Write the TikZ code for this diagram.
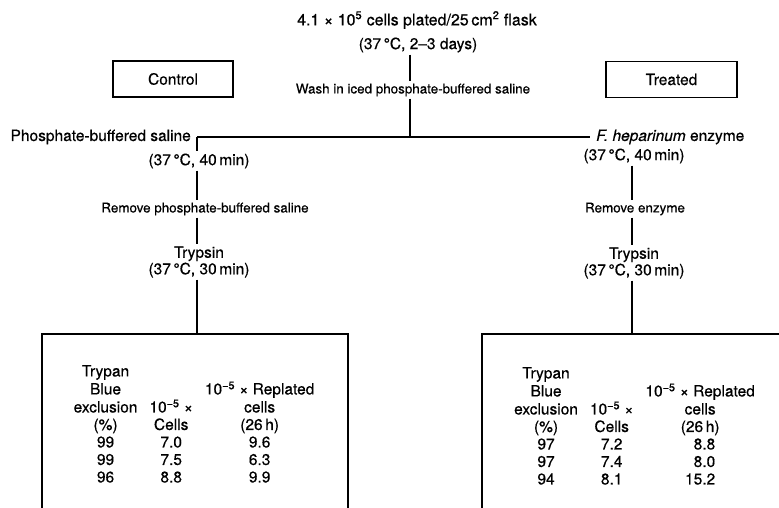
\documentclass[tikz,border=0pt]{standalone}
\usepackage{fontspec}
\setmainfont{TeX Gyre Heros}[FakeBold=0.5]
\usetikzlibrary{positioning}
\tikzset{
  stage/.style={font=\fontsize{15.5}{16.5}\selectfont,align=center,inner sep=2pt},
  note/.style={font=\fontsize{13.4}{15}\selectfont,inner sep=2pt},
  group/.style={draw,line width=1.6pt,minimum height=36pt,
    font=\fontsize{15.5}{17.5}\selectfont},
  tablebox/.style={draw,line width=1.6pt,anchor=north west,minimum height=260pt},
  results/.style={anchor=north,inner sep=0pt,font=\fontsize{15.5}{17.5}\selectfont},
  link/.style={line width=1.6pt}
}

\begin{document}
\begin{tikzpicture}[x=1pt,y=-1pt]
      \useasboundingbox (0,0) rectangle (779,508);
      \clip (0,0) rectangle (779,508);
      % start of the run
      \node[stage,font=\fontsize{16}{18}\selectfont] (plated) at (417,20)
        {4.1 × 10\textsuperscript{5} cells plated/25\,cm\textsuperscript{2} flask};
      \node[stage] (days) at (418,45) {(37\,°C, 2–3 days)};
      \node[note] (wash) at (413,90) {Wash in iced phosphate-buffered saline};
      \coordinate (split) at (410,137);
      \coordinate (cornerL) at (197,137);
      \coordinate (endR) at (590,137);
      \draw[link] (days.south -| split) -- (wash.north -| split);
      \draw[link] (wash.south -| split) -- (split);
      \draw[link] (cornerL) -- (endR);

      \node[group,minimum width=120pt] (control) at (173,79) {Control};
      \node[group,minimum width=131pt] (treated) at (671.5,79.5) {Treated};

      % control arm
      \node[stage,anchor=east] (pbs) at (193,137) {Phosphate-buffered saline};
      \node[stage] (ctlcond) at (199,161) {(37\,°C, 40\,min)};
      \node[note] (ctlremove) at (205,209) {Remove phosphate-buffered saline};
      \node[stage] (ctltryp) at (199,262) {Trypsin\\(37\,°C, 30\,min)};
      \node[tablebox,minimum width=306pt] (ctlbox) at (41,333) {};
      \draw[link] (cornerL) -- (ctlcond.north -| cornerL);
      \draw[link] (ctlcond.south -| cornerL) -- (ctlremove.north -| cornerL);
      \draw[link] (ctlremove.south -| cornerL) -- (ctltryp.north -| cornerL);
      \draw[link] (ctltryp.south -| cornerL) -- (ctlbox.north -| cornerL);
      \node[results] (ctltab) at (194,364) {%
        \begin{tabular}{@{}c@{\hspace{12pt}}c@{\hspace{12pt}}c@{}}
          Trypan & & \\
          Blue & & 10\textsuperscript{−5} × Replated \\
          exclusion & 10\textsuperscript{−5} × & cells \\
          (\%) & Cells & (26\,h) \\
          99 & 7.0 & 9.6 \\
          99 & 7.5 & 6.3 \\
          96 & 8.8 & 9.9 \\
        \end{tabular}};

      % treated arm
      \node[stage,anchor=west] (enzyme) at (594,137) {\textit{F. heparinum} enzyme};
      \node[stage] (trtcond) at (634,156) {(37\,°C, 40\,min)};
      \node[note] (trtremove) at (635,209) {Remove enzyme};
      \node[stage] (trttryp) at (634,263) {Trypsin\\(37\,°C, 30\,min)};
      \node[tablebox,minimum width=400pt] (trtbox) at (481,333) {};
      \coordinate (stemR) at (632,137);
      \draw[link] (trtcond.south -| stemR) -- (trtremove.north -| stemR);
      \draw[link] (trtremove.south -| stemR) -- (trttryp.north -| stemR);
      \draw[link] (trttryp.south -| stemR) -- (trtbox.north -| stemR);
      \node[results] (trttab) at (634.5,366) {%
        \begin{tabular}{@{}c@{\hspace{12pt}}c@{\hspace{12pt}}c@{}}
          Trypan & & \\
          Blue & & 10\textsuperscript{−5} × Replated \\
          exclusion & 10\textsuperscript{−5} × & cells \\
          (\%) & Cells & (26\,h) \\
          97 & 7.2 & \phantom{1}8.8 \\
          97 & 7.4 & \phantom{1}8.0 \\
          94 & 8.1 & 15.2 \\
        \end{tabular}};
    \end{tikzpicture}
\end{document}
